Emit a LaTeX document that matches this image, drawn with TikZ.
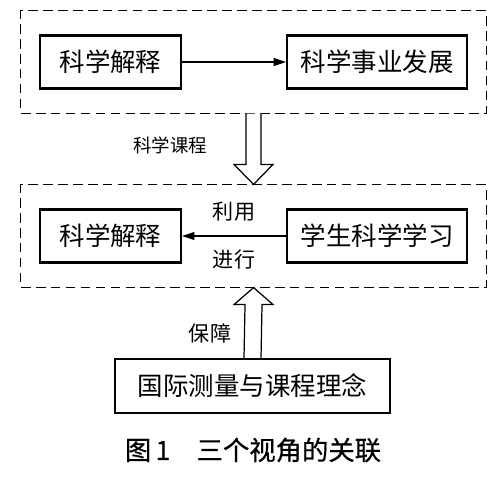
\documentclass[tikz,border=0pt]{standalone}
\usepackage{fontspec}
\newfontfamily\cjk{Noto Sans CJK SC}
\newfontfamily\cjkcap[FakeBold=0.6]{Noto Sans CJK SC}
\usetikzlibrary{arrows.meta,calc,fit,positioning}
\tikzset{
  box/.style={draw, line width=1.2pt, minimum height=1.06cm,
    font=\cjk\fontsize{14.5}{16}\selectfont},
  groupbox/.style={draw, dash pattern=on 5.5pt off 3pt, line width=0.6pt,
    inner xsep=0.36cm, inner ysep=0.47cm},
  link/.style={-{Triangle[length=7pt,width=4.5pt]}, line width=0.6pt},
  hollow/.style={draw, line width=0.7pt, fill=white},
  tag/.style={font=\cjk\fontsize{12}{14}\selectfont}
}

\begin{document}
\begin{tikzpicture}[x=0.02cm, y=-0.02cm]
  \useasboundingbox (0,0) rectangle (500,478);

  % === upper group ===
  \node[box, minimum width=2.82cm] (sciA) at (110.5,62) {科学解释};
  \node[box, minimum width=3.6cm, right=2.08cm of sciA] (dev) {科学事业发展};
  \draw[link] (sciA) -- (dev);
  \node[groupbox, fit=(sciA)(dev)] (top) {};

  % === middle group ===
  \node[box, minimum width=2.82cm] (sciB) at (110.5,236) {科学解释};
  \node[box, minimum width=3.6cm, right=2.08cm of sciB] (learn) {学生科学学习};
  \draw[link] (learn) -- (sciB)
    node[tag, midway, above=4.5pt] (use) {利用}
    node[tag, midway, below=4pt] (do) {进行};
  \node[groupbox, fit=(sciB)(learn)] (mid) {};

  % === bottom box ===
  \node[box, minimum width=5.5cm, minimum height=1.08cm] (base) at (252.5,386)
    {国际测量与课程理念};

  % Hollow arrow down: course
  \draw[hollow] ($(top.south)+(-7.5,0)$) -- ($(mid.north)+(-7.5,-20)$)
    -- ($(mid.north)+(-19.5,-20)$) -- (mid.north)
    -- ($(mid.north)+(19.5,-20)$) -- ($(mid.north)+(7.5,-20)$)
    -- ($(top.south)+(7.5,0)$);
  \node[font=\cjk\fontsize{10.5}{12}\selectfont] (course) at (170,145) {科学课程};

  % Hollow arrow up: support
  \draw[hollow] ($(base.north)+(-8.5,0)$) -- ($(mid.south)+(-8.5,17)$)
    -- ($(mid.south)+(-19.5,17)$) -- (mid.south)
    -- ($(mid.south)+(19.5,17)$) -- ($(mid.south)+(8.5,17)$)
    -- ($(base.north)+(8.5,0)$);
  \node[tag] (basis) at (210,333) {保障};

  % Caption
  \node[font=\cjkcap\fontsize{15}{17}\selectfont] (caption) at (253,450)
    {图\,1\hspace{1em}三个视角的关联};
\end{tikzpicture}
\end{document}
